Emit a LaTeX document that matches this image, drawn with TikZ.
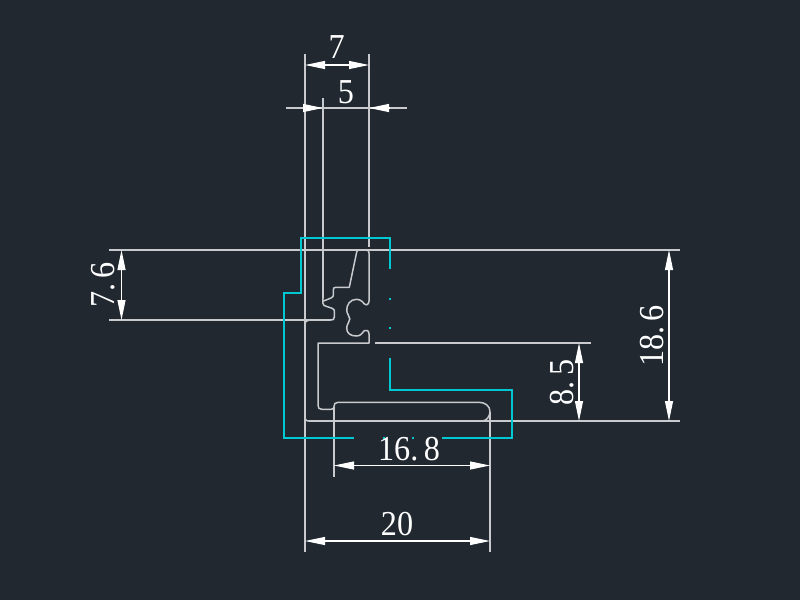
\documentclass[tikz,border=0pt]{standalone}
\usepackage{fontspec}
\setmainfont{Liberation Serif}
\usetikzlibrary{arrows.meta}
\definecolor{bgc}{HTML}{212830}
\definecolor{linec}{HTML}{C8CACD}
\definecolor{tealc}{HTML}{00C8D2}
\newcommand{\dimtxt}[1]{\scalebox{.92}[1]{\fontsize{35}{35}\selectfont #1}}
\tikzset{
  x=1pt,y=-1pt,
  extline/.style={draw=linec,line width=1.5pt},
  profile/.style={draw=linec,line width=1.5pt,line join=round,line cap=round},
  cyanline/.style={draw=tealc,line width=1.5pt},
  dimarrow/.style={draw=white,line width=1.1pt,{Triangle[length=20pt,width=8pt,fill=white]}-{Triangle[length=20pt,width=8pt,fill=white]}},
  singlearrow/.style={draw=white,line width=1.1pt,-{Triangle[length=20pt,width=8pt,fill=white]}},
  dimlabel/.style={text=white,inner sep=0pt},
  tealdot/.style={fill=tealc,draw=none}
}
\begin{document}
\begin{tikzpicture}
\fill[bgc] (0,0) rectangle (800,600);
\useasboundingbox (0,0) rectangle (800,600);
% extension lines
\draw[extline] (305,54) -- (305,552);
\draw[extline] (369,54) -- (369,247);
\draw[extline] (323,98) -- (323,298);
\draw[extline] (109,250) -- (680,250);
\draw[extline] (109,320) -- (331,320);
\draw[extline] (375,343) -- (591,343);
\draw[extline] (308.5,421) -- (680,421);
\draw[extline] (334,407) -- (334,477);
\draw[extline] (490,412) -- (490,552);
% profile
\draw[profile] (323,298) .. controls (323,302) and (322,304) .. (324,305.5)
  -- (332,308.3) .. controls (334,309) and (334.3,310) .. (334.3,311) -- (334.3,317)
  .. controls (334.3,319.5) and (333,320) .. (331,320);
\draw[profile] (323.5,301) -- (331,298) .. controls (333,297.2) and (333.3,296) .. (333.3,295)
  -- (333.3,290) .. controls (333.3,288) and (334,287.3) .. (336,287.3)
  -- (349.3,287.3) -- (356.7,252) .. controls (357,250.5) and (358,250) .. (359,250)
  -- (366,250) .. controls (368.5,250) and (369,251) .. (369,253)
  -- (369,301) .. controls (369,304) and (366.5,306) .. (364.5,304)
  .. controls (361,299.5) and (358,299.3) .. (356.5,299.3)
  .. controls (350,299.3) and (346.7,305) .. (346.7,310)
  .. controls (346.7,314) and (349.8,316) .. (349.8,319)
  .. controls (349.8,322) and (346.7,324) .. (346.7,328)
  .. controls (346.7,333) and (350,336) .. (356.5,336)
  .. controls (361,336) and (362,333) .. (364.5,330.5)
  .. controls (366.5,329) and (369,331) .. (369,334)
  -- (369,343) -- (318,343) -- (318,405)
  .. controls (318,408) and (319,409.3) .. (322,409.3)
  -- (331,409.3) .. controls (333.5,409.3) and (334,408) .. (334,406.5)
  .. controls (334,404) and (335,402.3) .. (338,402.3)
  -- (479,402.3) .. controls (485,402.3) and (490,406) .. (490,411.5)
  .. controls (490,417) and (486,421) .. (482,421);
\draw[profile] (305,326) .. controls (305,322) and (306,320) .. (309,320);
\draw[profile] (305,416) .. controls (305,419.5) and (305.5,421) .. (309,421);
% teal hidden lines
\draw[cyanline] (390,268.5) -- (390,238) -- (301,238) -- (301,293) -- (284,293) -- (284,438) -- (353.5,438);
\draw[cyanline] (442,438) -- (512,438) -- (512,390) -- (390,390) -- (390,358);
\fill[tealdot] (389,298) rectangle (391,300);
\fill[tealdot] (389,327) rectangle (391,329);
\fill[tealdot] (412,436.5) rectangle (414,438.5);
\fill[tealdot] (383,436.5) rectangle (385,438.5);
% dimension lines
\draw[dimarrow] (305,65) -- (369,65);
\draw[extline] (286,108) -- (406.5,108);
\draw[singlearrow] (305,108) -- (323,108);
\draw[singlearrow] (388.5,108) -- (369,108);
\draw[dimarrow] (121.5,250) -- (121.5,320);
\draw[dimarrow] (579,343) -- (579,421);
\draw[dimarrow] (669,250) -- (669,421);
\draw[dimarrow] (334,465.5) -- (490,465.5);
\draw[dimarrow] (305,541) -- (490,541);
% labels
\node[dimlabel] (d7) at (336.7,47.5) {\dimtxt{7}};
\node[dimlabel] (d5) at (346,92) {\dimtxt{5}};
\node[dimlabel,rotate=90] (d76) at (103.5,285) {\dimtxt{7.\kern6pt 6}};
\node[dimlabel,rotate=90] (d85) at (561.7,382.5) {\dimtxt{8.\kern6pt 5}};
\node[dimlabel,rotate=90] (d186) at (651.7,336) {\dimtxt{18.\kern6pt 6}};
\node[dimlabel] (d168) at (409,449.5) {\dimtxt{16.\kern6pt 8}};
\node[dimlabel] (d20) at (397,524.5) {\dimtxt{20}};
\end{tikzpicture}
\end{document}
